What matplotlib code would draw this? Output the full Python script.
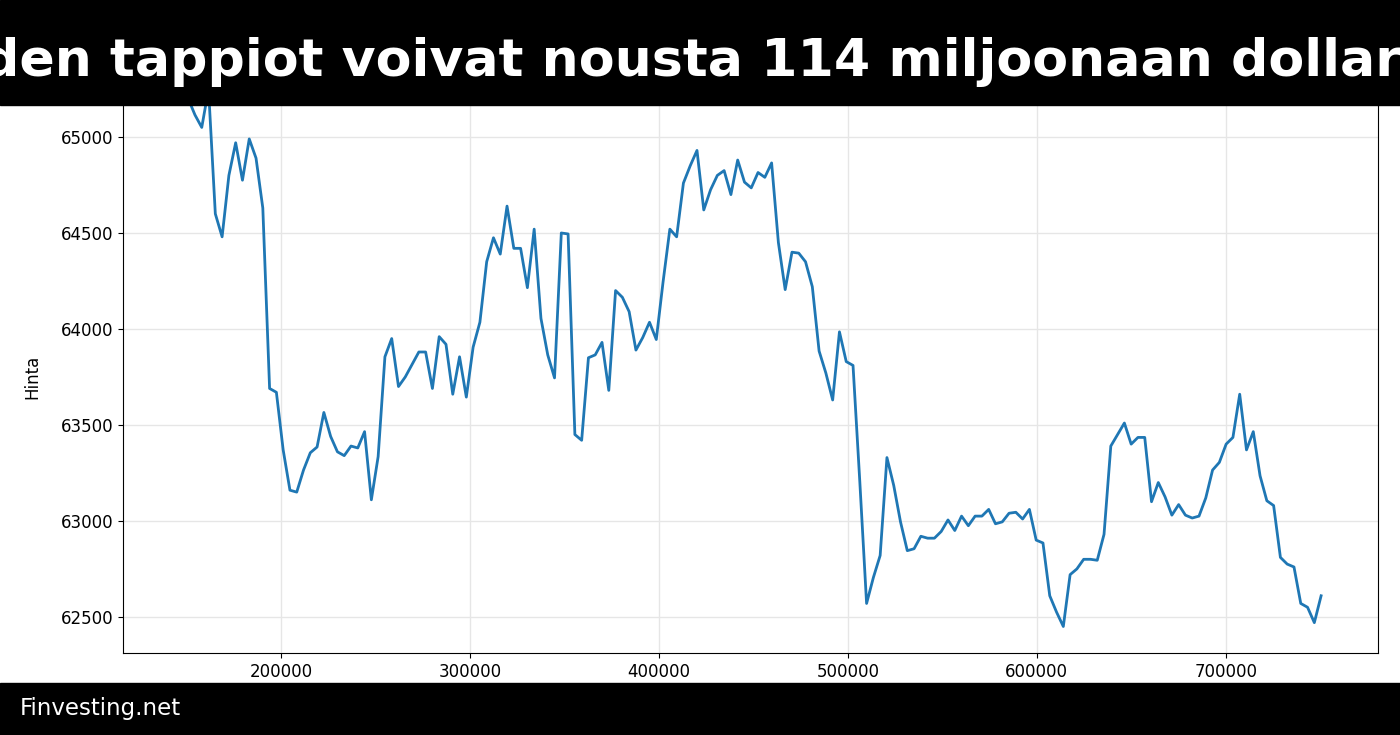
import numpy as np
import matplotlib
matplotlib.use("Agg")
import matplotlib.pyplot as plt
from matplotlib.patches import Rectangle

title = "den tappiot voivat nousta 114 miljoonaan dollari"
footer = "Finvesting.net"
ylabel = "Hinta"

prices = [65200, 65115, 65050, 65250, 64600, 64480, 64800, 64970, 64775, 64990,
          64890, 64630, 63690, 63670, 63370, 63160, 63150, 63265, 63355, 63385,
          63565, 63440, 63360, 63340, 63390, 63380, 63465, 63110, 63335, 63855,
          63950, 63700, 63750, 63815, 63880, 63880, 63690, 63960, 63920, 63660,
          63855, 63645, 63905, 64035, 64350, 64475, 64390, 64640, 64420, 64420,
          64215, 64520, 64055, 63865, 63745, 64500, 64495, 63450, 63420, 63850,
          63865, 63930, 63680, 64200, 64165, 64090, 63890, 63955, 64035, 63945,
          64245, 64520, 64480, 64760, 64850, 64930, 64620, 64725, 64800, 64825,
          64700, 64880, 64765, 64735, 64815, 64790, 64865, 64450, 64205, 64400,
          64395, 64350, 64220, 63885, 63770, 63630, 63985, 63830, 63810, 63205,
          62570, 62705, 62820, 63330, 63185, 62995, 62845, 62855, 62920, 62910,
          62910, 62945, 63005, 62950, 63025, 62975, 63025, 63025, 63060, 62985,
          62995, 63040, 63045, 63010, 63060, 62900, 62885, 62610, 62525, 62450,
          62720, 62750, 62800, 62800, 62795, 62930, 63390, 63450, 63510, 63400,
          63435, 63435, 63100, 63200, 63125, 63030, 63085, 63030, 63015, 63025,
          63120, 63265, 63305, 63400, 63435, 63660, 63370, 63465, 63235, 63105,
          63080, 62810, 62775, 62760, 62570, 62550, 62470, 62610]
x_start, x_end = 150800, 750500
steps = np.linspace(x_start, x_end, len(prices))

fig = plt.figure(figsize=(14, 7.35), dpi=100)
ax = fig.add_axes([0.088, 0.1116, 0.896, 0.7524])
ax.plot(steps, prices, color="#1f77b4", lw=2)
ax.set_xlim(116400, 780400)
ax.set_ylim(62312, 65193)
ax.set_xticks([200000, 300000, 400000, 500000, 600000, 700000])
ax.set_yticks([62500, 63000, 63500, 64000, 64500, 65000])
ax.tick_params(labelsize=12)
ax.grid(True, color="#e6e6e6", lw=1)
ax.set_ylabel(ylabel, fontsize=12, labelpad=14)

fig.patches.append(Rectangle((0, 1 - 105/735), 1, 105/735, transform=fig.transFigure,
                             color="black", zorder=10))
fig.text(0.5, 1 - 62/735, title, color="white", fontsize=37.5, fontweight="bold",
         ha="center", va="center", zorder=11)
fig.patches.append(Rectangle((0, 0), 1, 52/735, transform=fig.transFigure,
                             color="black", zorder=10))
fig.text(20/1400, 27/735, footer, color="white", fontsize=16.5, ha="left",
         va="center", zorder=11)
fig.savefig("out.png", dpi=100)
